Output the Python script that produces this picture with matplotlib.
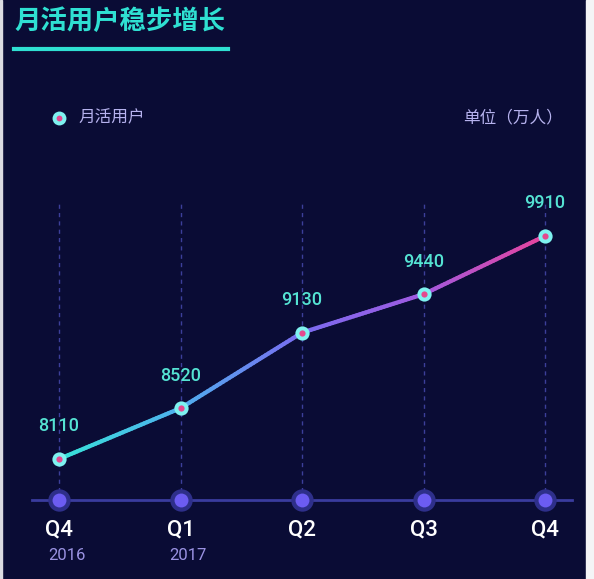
import numpy as np
import matplotlib
matplotlib.use("Agg")
import matplotlib.pyplot as plt
from matplotlib.collections import LineCollection
from matplotlib.colors import LinearSegmentedColormap
from matplotlib.patches import Rectangle

plt.rcParams['font.family'] = ['Noto Sans CJK SC', 'DejaVu Sans']

# ---- data ----
quarters = ["Q4", "Q1", "Q2", "Q3", "Q4"]
years = ["2016", "2017", "", "", ""]
users = [8110, 8520, 9130, 9440, 9910]
title = "月活用户稳步增长"
legend_label = "月活用户"
unit_label = "单位（万人）"

BG = "#0a0c35"
W, H = 594, 579
fig = plt.figure(figsize=(W / 100, H / 100), dpi=100, facecolor=BG)
ax = fig.add_axes([0, 0, 1, 1])
ax.set_facecolor(BG)
ax.axis("off")

NUMFONT = ["Roboto", "DejaVu Sans"]

# scale: x index 0 -> 59px, 4 -> 545px ; y 8110 -> 459px, 9910 -> 236px
px_per_x = (545 - 59) / 4
px_per_v = (459 - 236) / (9910 - 8110)
ax.set_xlim(-59 / px_per_x, (W - 59) / px_per_x)
ax.set_ylim(8110 - (H - 459) / px_per_v, 8110 + 459 / px_per_v)

x = np.arange(len(users))
base_v = 8110 - (500 - 459) / px_per_v
top_v = 8110 + (459 - 200) / px_per_v

# dashed verticals
for xi in x:
    ax.plot([xi, xi], [base_v, top_v], color="#3c3f9a", lw=1, ls=(0, (3, 3)), zorder=1)

# baseline
ax.plot([-27 / px_per_x, (572 - 59) / px_per_x], [base_v, base_v], color="#3a3c9e", lw=2, zorder=2)
ax.scatter(x, [base_v] * len(x), s=260, color="#2e2f8a", zorder=3, linewidths=0)
ax.scatter(x, [base_v] * len(x), s=100, color="#6c5cf2", zorder=4, linewidths=0)

# gradient line
cmap = LinearSegmentedColormap.from_list("g", ["#37e3d8", "#4fb0ee", "#7a6cf0", "#a05ae0", "#e6449e"])
segs, cols = [], []
n = 40
for i in range(len(users) - 1):
    t = np.linspace(0, 1, n + 1)
    xs = x[i] + (x[i + 1] - x[i]) * t
    ys = users[i] + (users[i + 1] - users[i]) * t
    for k in range(n):
        segs.append([(xs[k], ys[k]), (xs[k + 1], ys[k + 1])])
        cols.append(cmap((xs[k] + xs[k + 1]) / 2 / (len(users) - 1)))
lc = LineCollection(segs, colors=cols, linewidths=3, capstyle="round", zorder=5)
ax.add_collection(lc)

# point markers
ax.scatter(x, users, s=105, color="#7ef2f0", zorder=6, linewidths=0)
ax.scatter(x, users, s=20, color="#e4488e", zorder=7, linewidths=0)

# value labels
for xi, v in zip(x, users):
    ax.annotate(f"{v}", (xi, v), xytext=(0, 17), textcoords="offset points",
                ha="center", va="bottom", color="#55e3d3", fontsize=13,
                family=NUMFONT, fontweight="medium", zorder=8)

# category labels
for xi, q, yr in zip(x, quarters, years):
    ax.text(xi, 8110 - (530 - 459) / px_per_v, q, ha="center", va="center",
            color="white", fontsize=16, family=NUMFONT, fontweight="medium")
    if yr:
        ax.text(xi - 11 / px_per_x, 8110 - (556 - 459) / px_per_v, yr, ha="left", va="center",
                color="#9a92e2", fontsize=12, family=NUMFONT)

# title & decorations (figure pixel coords)
def fx(px):
    return px / W

def fy(py):
    return 1 - py / H

fig.text(fx(14), fy(21), title, ha="left", va="center", color="#2fe0d2",
         fontsize=19, fontweight="bold")
fig.add_artist(plt.Line2D([fx(14), fx(228)], [fy(49), fy(49)], color="#2fe0d2", lw=3))

# legend
fig.add_artist(plt.Line2D([fx(59)], [fy(118)], marker="o", markersize=10,
                          markerfacecolor="#7ef2f0", markeredgewidth=0, ls=""))
fig.add_artist(plt.Line2D([fx(59)], [fy(118)], marker="o", markersize=4.2,
                          markerfacecolor="#e4488e", markeredgewidth=0, ls=""))
fig.text(fx(78), fy(118), legend_label, ha="left", va="center", color="#b6b2ee", fontsize=12)
fig.text(fx(563), fy(118), unit_label, ha="right", va="center", color="#b6b2ee", fontsize=12)

# thin light border strips at edges, as in the reference image
fig.add_artist(Rectangle((fx(586), 0), fx(8), 1, transform=fig.transFigure, color="#f4f4f6", zorder=10))
fig.add_artist(Rectangle((0, 0), fx(2), 1, transform=fig.transFigure, color="#dcdce2", zorder=10))

fig.savefig("out.png", dpi=100, facecolor=BG)
